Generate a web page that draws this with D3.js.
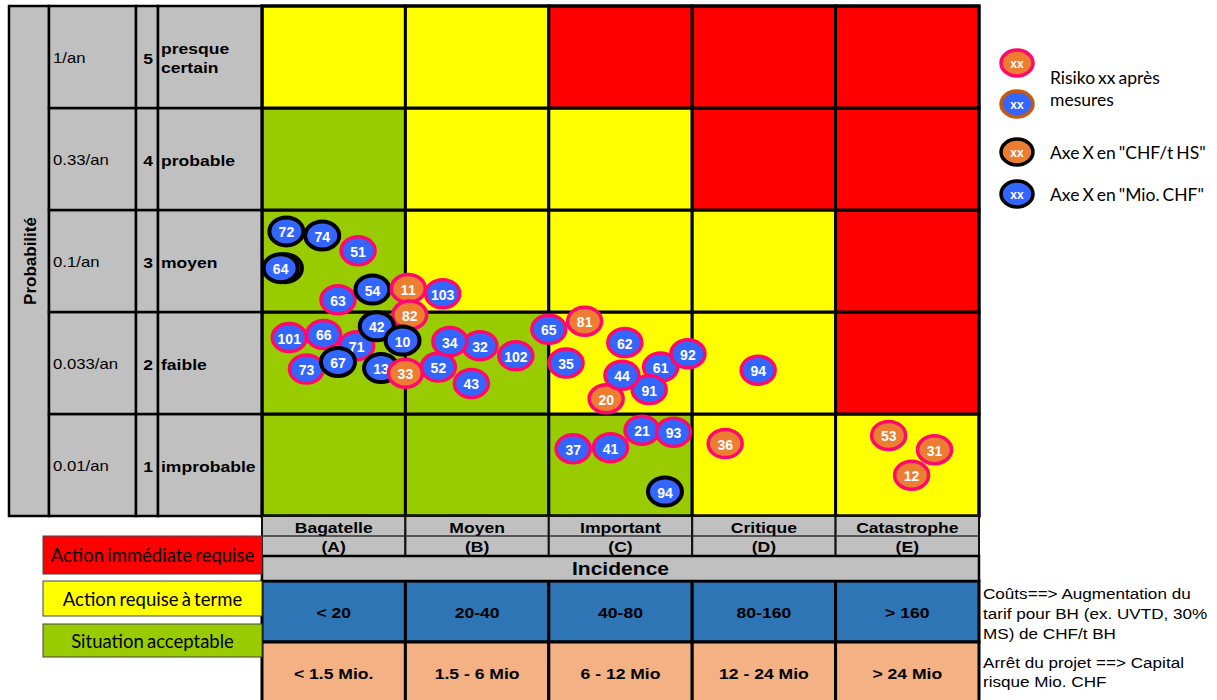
<!DOCTYPE html>
<html>
<head>
<meta charset="utf-8">
<script src="https://cdn.jsdelivr.net/npm/d3@7"></script>
<style>
  body { margin: 0; background: #fff; }
  svg { display: block; }
</style>
</head>
<body>
<svg id="chart" width="1217" height="700"></svg>
<script>
// Probability levels (rows, bottom to top)
const probLevels = [1, 2, 3, 4, 5];
const probFrequency = ["0.01/an", "0.033/an", "0.1/an", "0.33/an", "1/an"];
const probNames = ["improbable", "faible", "moyen", "probable", "presque certain"];

// Incidence classes (columns)
const incidenceCodes = ["A", "B", "C", "D", "E"];
const incidenceNames = ["Bagatelle", "Moyen", "Important", "Critique", "Catastrophe"];
const costRanges = ["< 20", "20-40", "40-80", "80-160", "> 160"];
const capitalRanges = ["< 1.5 Mio.", "1.5 - 6 Mio", "6 - 12 Mio", "12 - 24 Mio", "> 24 Mio"];

// Zone of each cell: rows = probability 1..5, columns = A..E
const zoneGrid = [
  ["ok", "ok", "ok", "later", "later"],
  ["ok", "ok", "later", "later", "now"],
  ["ok", "later", "later", "later", "now"],
  ["ok", "later", "later", "now", "now"],
  ["later", "later", "now", "now", "now"]
];
const zoneKeys = ["now", "later", "ok"];
const zoneLabels = ["Action immédiate requise", "Action requise à terme", "Situation acceptable"];

// Risks (in drawing order): number, incidence position (0-5), probability position (0-5),
// unit of the incidence axis, and whether the risk is shown after measures
const riskIds = ["64", "64", "72", "74", "51", "63", "54", "103", "11", "82", "71", "66", "101",
  "42", "10", "73", "67", "13", "33", "43", "52", "32", "34", "102", "65", "81", "35", "62",
  "61", "92", "91", "20", "44", "37", "41", "21", "93", "94", "94", "36", "53", "31", "12"];
const riskIncidence = [0.16, 0.13, 0.17, 0.42, 0.67, 0.53, 0.77, 1.26, 1.02, 1.03, 0.66, 0.43, 0.19,
  0.80, 0.98, 0.31, 0.53, 0.83, 1.00, 1.46, 1.23, 1.52, 1.31, 1.77, 2.00, 2.25, 2.12, 2.53,
  2.78, 2.97, 2.70, 2.40, 2.51, 2.17, 2.43, 2.65, 2.87, 2.81, 3.46, 3.23, 4.37, 4.69, 4.53];
const riskProbability = [2.43, 2.43, 2.79, 2.75, 2.60, 2.12, 2.22, 2.18, 2.23, 1.97, 1.67, 1.78, 1.75,
  1.86, 1.72, 1.44, 1.51, 1.45, 1.40, 1.30, 1.46, 1.67, 1.71, 1.57, 1.83, 1.91, 1.50, 1.70,
  1.46, 1.59, 1.24, 1.15, 1.38, 0.66, 0.67, 0.84, 0.82, 0.24, 1.43, 0.71, 0.79, 0.65, 0.40];
const riskUnit = ["Mio", "Mio", "Mio", "Mio", "Mio", "Mio", "Mio", "Mio", "CHF/t", "CHF/t", "Mio", "Mio", "Mio",
  "Mio", "Mio", "Mio", "Mio", "Mio", "CHF/t", "Mio", "Mio", "Mio", "Mio", "Mio", "Mio", "CHF/t", "Mio", "Mio",
  "Mio", "Mio", "Mio", "CHF/t", "Mio", "Mio", "Mio", "Mio", "Mio", "Mio", "Mio", "CHF/t", "CHF/t", "CHF/t", "CHF/t"];
const riskAfterMeasures = [false, false, false, false, true, true, false, true, true, true, true, true, true,
  false, false, true, false, false, true, true, true, true, true, true, true, true, true, true,
  true, true, true, true, true, true, true, true, true, false, true, true, true, true, true];

// Legend entries for the markers
const markerLegendUnits = ["CHF/t", "Mio", "CHF/t", "Mio"];
const markerLegendStroke = ["after", "afterAlt", "before", "before"];
const markerLegendText = [["Risiko xx après", "mesures"], ["Axe X en \"CHF/t HS\""], ["Axe X en \"Mio. CHF\""]];

const notesCost = ["Coûts==> Augmentation du", "tarif pour BH (ex. UVTD, 30%", "MS) de CHF/t BH"];
const notesCapital = ["Arrêt du projet ==> Capital", "risque Mio. CHF"];

// ---------- styling ----------
const zoneColor = { now: "#ff0000", later: "#ffff00", ok: "#99cc00" };
const unitFill = { "CHF/t": "#ed7d31", "Mio": "#3366ff" };
const ringColor = { after: "#ff0a6c", afterAlt: "#c55a11", before: "#000000" };
const GRAY = "#c0c0c0";
const ARIAL = "'Liberation Sans', Arial, sans-serif";
const CALIBRI = "Lato, 'Open Sans', sans-serif";
const SX = 1.17; // horizontal stretch of the table lettering

const svg = d3.select("#chart");
svg.append("rect").attr("width", 1217).attr("height", 700).attr("fill", "#fff");

// Matrix geometry
const mLeft = 262, mRight = 979, mTop = 6, mBottom = 516;
const xBand = d3.scaleBand().domain(incidenceCodes).range([mLeft, mRight]);
const yBand = d3.scaleBand().domain(probLevels).range([mBottom, mTop]);
const xPos = d3.scaleLinear().domain([0, 5]).range([mLeft, mRight]);
const yPos = d3.scaleLinear().domain([0, 5]).range([mBottom, mTop]);

function text(g, x, y, s, o = {}) {
  return g.append("text")
    .attr("transform", `translate(${x},${y}) scale(${o.sx ?? SX},1)`)
    .attr("dominant-baseline", "central")
    .attr("text-anchor", o.anchor || "start")
    .attr("font-family", o.family || ARIAL)
    .attr("font-size", o.size || 15)
    .attr("font-weight", o.weight || "normal")
    .attr("word-spacing", o.ws || 0)
    .attr("fill", o.fill || "#000")
    .text(s);
}

// ---------- risk matrix cells ----------
const cells = [];
probLevels.forEach((p, i) => incidenceCodes.forEach((c, j) => cells.push({ p, c, zone: zoneGrid[i][j] })));
const gMatrix = svg.append("g");
gMatrix.selectAll("rect.cell").data(cells).join("rect")
  .attr("class", "cell")
  .attr("x", d => xBand(d.c)).attr("y", d => yBand(d.p))
  .attr("width", xBand.bandwidth()).attr("height", yBand.bandwidth())
  .attr("fill", d => zoneColor[d.zone])
  .attr("stroke", "#000").attr("stroke-width", 3);

// ---------- probability table on the left ----------
const colX = [9, 49, 136, 158, mLeft];
const gLeft = svg.append("g");
gLeft.append("rect").attr("x", colX[0]).attr("y", mTop).attr("width", colX[1] - colX[0]).attr("height", mBottom - mTop)
  .attr("fill", GRAY).attr("stroke", "#000").attr("stroke-width", 2.5);
probLevels.forEach((p, i) => {
  const y0 = yBand(p), h = yBand.bandwidth(), cy = y0 + h / 2;
  for (let k = 1; k < 4; k++) {
    gLeft.append("rect").attr("x", colX[k]).attr("y", y0).attr("width", colX[k + 1] - colX[k]).attr("height", h)
      .attr("fill", GRAY).attr("stroke", "#000").attr("stroke-width", 2.5);
  }
  text(gLeft, colX[1] + 4, cy + 1, probFrequency[i], { size: 14.3 });
  text(gLeft, (colX[2] + colX[3]) / 2 + 1, cy + 1, String(p), { size: 15, weight: "bold", anchor: "middle" });
  const words = probNames[i].split(" ");
  if (words.length === 1) {
    text(gLeft, colX[3] + 3, cy + 1, words[0], { size: 15, weight: "bold" });
  } else {
    text(gLeft, colX[3] + 3, cy - 9, words[0], { size: 15, weight: "bold" });
    text(gLeft, colX[3] + 3, cy + 10, words[1], { size: 15, weight: "bold" });
  }
});
gLeft.append("text")
  .attr("transform", `translate(${(colX[0] + colX[1]) / 2 + 1},${(mTop + mBottom) / 2}) rotate(-90)`)
  .attr("text-anchor", "middle").attr("dominant-baseline", "central")
  .attr("font-family", ARIAL).attr("font-size", 17).attr("font-weight", "bold")
  .text("Probabilité");

// matrix border on top of the neighbouring table
svg.append("rect").attr("x", mLeft).attr("y", mTop).attr("width", mRight - mLeft).attr("height", mBottom - mTop)
  .attr("fill", "none").attr("stroke", "#000").attr("stroke-width", 3);

// ---------- incidence table below ----------
const rowY = [mBottom, 536, 556, 581, 642, 700];
const gBottom = svg.append("g");
incidenceCodes.forEach((c, j) => {
  const x0 = xBand(c), w = xBand.bandwidth(), cx = x0 + w / 2;
  gBottom.append("rect").attr("x", x0).attr("y", rowY[0]).attr("width", w).attr("height", rowY[2] - rowY[0])
    .attr("fill", GRAY).attr("stroke", "#111").attr("stroke-width", 2);
  gBottom.append("line").attr("x1", x0).attr("x2", x0 + w).attr("y1", rowY[1]).attr("y2", rowY[1])
    .attr("stroke", "#333").attr("stroke-width", 1.5);
  gBottom.append("rect").attr("x", x0).attr("y", rowY[3]).attr("width", w).attr("height", rowY[4] - rowY[3])
    .attr("fill", "#2e75b6").attr("stroke", "#000").attr("stroke-width", 3);
  gBottom.append("rect").attr("x", x0).attr("y", rowY[4]).attr("width", w).attr("height", rowY[5] - rowY[4] + 2)
    .attr("fill", "#f4b183").attr("stroke", "#000").attr("stroke-width", 3);
  text(gBottom, cx, (rowY[0] + rowY[1]) / 2 + 1, incidenceNames[j], { size: 15, weight: "bold", anchor: "middle" });
  text(gBottom, cx, (rowY[1] + rowY[2]) / 2, `(${c})`, { size: 15, weight: "bold", anchor: "middle" });
  text(gBottom, cx, (rowY[3] + rowY[4]) / 2 + 1, costRanges[j], { size: 15, weight: "bold", anchor: "middle" });
  text(gBottom, cx, (rowY[4] + rowY[5]) / 2 + 2, capitalRanges[j], { size: 15, weight: "bold", anchor: "middle" });
});
gBottom.append("rect").attr("x", mLeft).attr("y", rowY[2]).attr("width", mRight - mLeft).attr("height", rowY[3] - rowY[2])
  .attr("fill", GRAY).attr("stroke", "#000").attr("stroke-width", 2.5);
text(gBottom, (mLeft + mRight) / 2, (rowY[2] + rowY[3]) / 2, "Incidence", { size: 18, weight: "bold", anchor: "middle" });

// ---------- zone legend ----------
const zoneBoxY = [536, 581, 624];
const zoneBoxH = [38, 35, 33];
const gZone = svg.append("g");
zoneKeys.forEach((k, i) => {
  gZone.append("rect").attr("x", 43).attr("y", zoneBoxY[i]).attr("width", mLeft - 43).attr("height", zoneBoxH[i])
    .attr("fill", zoneColor[k]).attr("stroke", "#444").attr("stroke-width", 1);
  text(gZone, (43 + mLeft) / 2, zoneBoxY[i] + zoneBoxH[i] / 2, zoneLabels[i],
    { size: 18.5, anchor: "middle", family: CALIBRI, sx: 1, ws: -1.5 });
});

// ---------- notes on the right of the table ----------
const gNotes = svg.append("g");
notesCost.forEach((s, i) => text(gNotes, 983, 593 + i * 20, s, { size: 15, sx: 1.14 }));
notesCapital.forEach((s, i) => text(gNotes, 983, 662 + i * 19, s, { size: 15, sx: 1.14 }));

// ---------- risk markers ----------
const risks = riskIds.map((id, i) => ({
  id, x: riskIncidence[i], y: riskProbability[i], unit: riskUnit[i], after: riskAfterMeasures[i]
}));
// a marker stacked right under a later copy of the same risk keeps its label hidden
risks.forEach((d, i) => {
  d.covered = risks.slice(i + 1).some(e => e.id === d.id &&
    Math.hypot(xPos(e.x) - xPos(d.x), yPos(e.y) - yPos(d.y)) < 12);
});
const RX = 17, RY = 14;
const gRisk = svg.append("g");
const marker = gRisk.selectAll("g.risk").data(risks).join("g")
  .attr("class", "risk")
  .attr("transform", d => `translate(${xPos(d.x)},${yPos(d.y)})`);
marker.append("ellipse")
  .attr("rx", RX).attr("ry", RY)
  .attr("fill", d => unitFill[d.unit])
  .attr("stroke", d => d.after ? ringColor.after : ringColor.before)
  .attr("stroke-width", d => d.after ? 3.5 : 4);
marker.filter(d => !d.covered).append("text")
  .attr("text-anchor", "middle").attr("dominant-baseline", "central").attr("y", 1)
  .attr("font-family", ARIAL).attr("font-size", 14).attr("font-weight", "bold")
  .attr("fill", "#fff")
  .text(d => d.id);

// ---------- marker legend ----------
const gLeg = svg.append("g");
const legY = [63, 104, 152, 194];
markerLegendUnits.forEach((u, i) => {
  const g = gLeg.append("g").attr("transform", `translate(1017,${legY[i]})`);
  g.append("ellipse").attr("rx", 16).attr("ry", 13)
    .attr("fill", unitFill[u]).attr("stroke", ringColor[markerLegendStroke[i]]).attr("stroke-width", 3.5);
  g.append("text").attr("text-anchor", "middle").attr("dominant-baseline", "central").attr("y", 0.5)
    .attr("font-family", ARIAL).attr("font-size", 12).attr("font-weight", "bold").attr("fill", "#fff").text("xx");
});
const legOpts = { size: 17.5, family: CALIBRI, sx: 1, ws: -1.5 };
text(gLeg, 1050, 77, markerLegendText[0][0], legOpts);
text(gLeg, 1050, 99, markerLegendText[0][1], legOpts);
text(gLeg, 1050, 152, markerLegendText[1][0], legOpts);
text(gLeg, 1050, 194, markerLegendText[2][0], legOpts);
</script>
</body>
</html>
